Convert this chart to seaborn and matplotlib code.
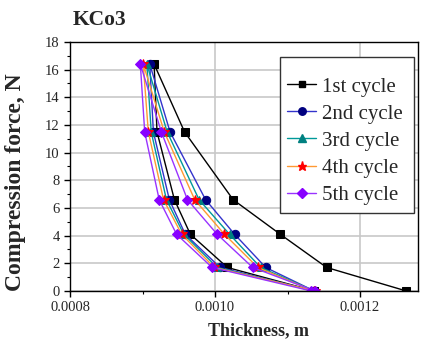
import matplotlib
matplotlib.use("Agg")
import matplotlib.pyplot as plt
from matplotlib.ticker import MultipleLocator, FixedLocator
from matplotlib.lines import Line2D
from matplotlib.patches import Rectangle
import seaborn as sns
import pandas as pd

sns.set_style("white")
plt.rcParams['font.family'] = ['Liberation Serif', 'DejaVu Serif']

force = [0, 1.7, 4.1, 6.6, 11.5, 16.4, 11.5, 6.6, 4.1, 1.7, 0]
cycle1 = [0.001264, 0.001154, 0.001090, 0.001025, 0.000958, 0.000916,
          0.000920, 0.000944, 0.000966, 0.001017, 0.001137]
cycle2 = [0.001137, 0.001070, 0.001027, 0.000987, 0.000938, 0.000910,
          0.000915, 0.000937, 0.000959, 0.001007, 0.001137]
cycle3 = [0.001137, 0.001063, 0.001020, 0.000978, 0.000934, 0.000906,
          0.000912, 0.000933, 0.000957, 0.001003, 0.001136]
cycle4 = [0.001136, 0.001059, 0.001013, 0.000972, 0.000930, 0.000901,
          0.000908, 0.000929, 0.000954, 0.000999, 0.001138]
cycle5 = [0.001138, 0.001052, 0.001003, 0.000962, 0.000926, 0.000897,
          0.000903, 0.000923, 0.000947, 0.000996, 0.001133]
labels = ["1st cycle", "2nd cycle", "3rd cycle", "4th cycle", "5th cycle"]
series = [cycle1, cycle2, cycle3, cycle4, cycle5]

line_colors = ["#000000", "#3333cc", "#009999", "#ff9933", "#9933ff"]
marker_colors = ["#000000", "#000080", "#008080", "#ff0000", "#8800ff"]
markers = ["s", "o", "^", "*", "D"]
msizes = [5.5, 6, 6, 7.5, 5.5]

fig = plt.figure(figsize=(4.21, 3.43), dpi=100)
ax = fig.add_axes([0.1663, 0.1516, 0.8266, 0.726])

rows = []
for lab, vals in zip(labels, series):
    for i, (t, f) in enumerate(zip(vals, force)):
        rows.append({"cycle": lab, "order": i, "thickness": t, "force": f})
df = pd.DataFrame(rows)

handles = []
for k, lab in enumerate(labels):
    sub = df[df["cycle"] == lab].sort_values("order")
    sns.lineplot(data=sub, x="thickness", y="force", ax=ax, sort=False,
                 estimator=None, color=line_colors[k], lw=1.0,
                 marker=markers[k], markersize=msizes[k],
                 markerfacecolor=marker_colors[k], markeredgecolor=marker_colors[k],
                 legend=False)
    handles.append(Line2D([], [], color=line_colors[k], lw=1.0, marker=markers[k],
                          markersize=msizes[k] * 0.9, markerfacecolor=marker_colors[k],
                          markeredgecolor=marker_colors[k], label=lab))

ax.set_xlim(0.0008, 0.00128)
ax.set_ylim(0, 18)
ax.xaxis.set_major_locator(FixedLocator([0.0008, 0.0010, 0.0012]))
ax.xaxis.set_minor_locator(MultipleLocator(0.0001))
ax.yaxis.set_major_locator(MultipleLocator(2))
ax.yaxis.set_minor_locator(MultipleLocator(1))
ax.set_xticklabels(["0.0008", "0.0010", "0.0012"])
ax.tick_params(axis='both', which='major', direction='out', length=4, width=1,
               labelsize=10.5, color='black', bottom=True, left=True)
ax.tick_params(axis='both', which='minor', direction='out', length=2, width=0.8,
               color='black', bottom=True, left=True)
ax.grid(True, which='major', color='#c8c8c8', lw=1.2)
ax.set_axisbelow(True)
for s in ax.spines.values():
    s.set_color('black')
    s.set_linewidth(1.0)
ax.set_xlabel("")
ax.set_ylabel("")

fig.text(0.613, 0.035, "Thickness, m", ha='center', va='center',
         fontsize=13, fontweight='bold')
fig.text(0.036, 0.469, "Compression force, N", ha='center', va='center',
         rotation=90, fontsize=17, fontweight='bold')
fig.text(0.173, 0.943, "KCo3", ha='left', va='center',
         fontsize=15.5, fontweight='bold')

# legend frame (pixel box 280..414 x 57..213)
frame = Rectangle((280 / 421, 1 - 213 / 343), 134 / 421, 156 / 343,
                  transform=fig.transFigure, facecolor='white',
                  edgecolor='#333333', lw=1.0, zorder=4)
fig.add_artist(frame)

leg = fig.legend(handles=handles, loc='upper left',
                 bbox_to_anchor=(287 / 421, 1 - 77 / 343),
                 bbox_transform=fig.transFigure,
                 fontsize=15, frameon=False, handlelength=1.4,
                 handletextpad=0.3, labelspacing=0.36, borderpad=0,
                 borderaxespad=0)
leg.set_zorder(5)

fig.savefig("out.png", dpi=100)
